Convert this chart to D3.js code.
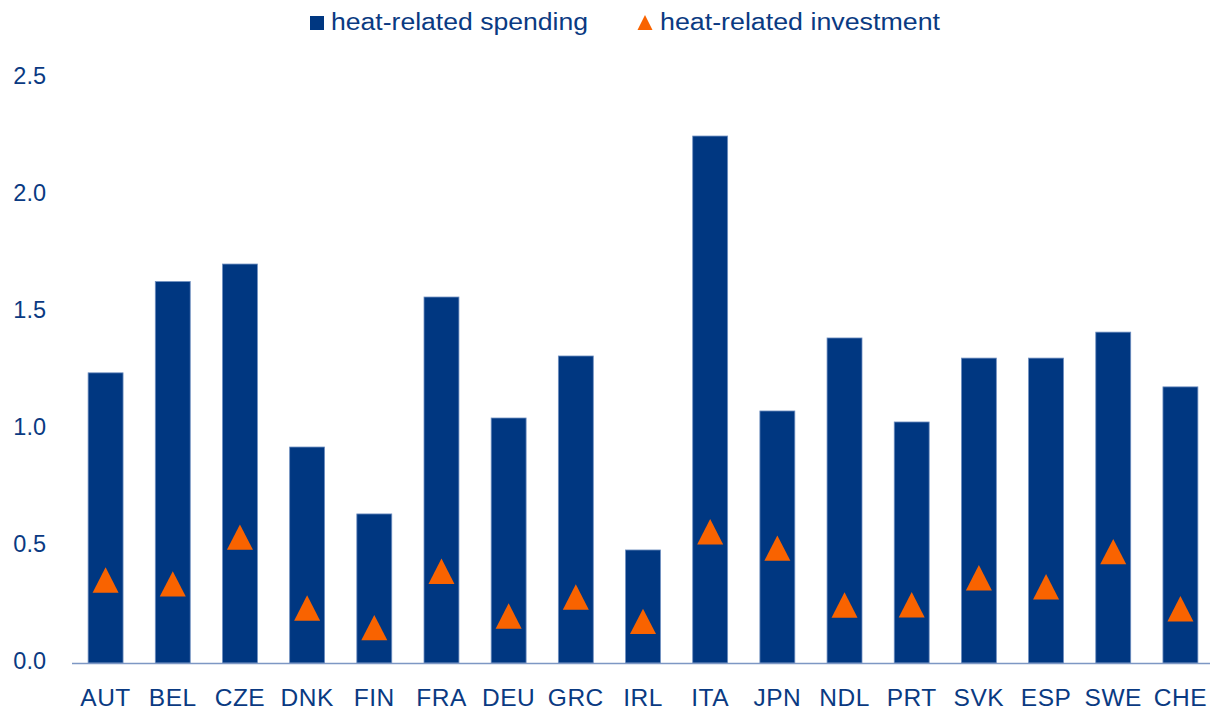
<!DOCTYPE html>
<html>
<head>
<meta charset="utf-8">
<script src="https://cdn.jsdelivr.net/npm/d3@7"></script>
<style>
  body { margin: 0; background: #fff; }
  svg { display: block; font-family: "Liberation Sans", Arial, sans-serif; }
</style>
</head>
<body>
<svg id="chart" width="1210" height="711"></svg>
<script>
const countries = ["AUT","BEL","CZE","DNK","FIN","FRA","DEU","GRC","IRL","ITA","JPN","NDL","PRT","SVK","ESP","SWE","CHE"]
const spending = [1.24,1.63,1.705,0.923,0.637,1.564,1.047,1.312,0.483,2.252,1.077,1.389,1.03,1.303,1.303,1.414,1.18]
const investment = [0.355,0.338,0.538,0.235,0.151,0.392,0.201,0.282,0.178,0.561,0.491,0.248,0.249,0.364,0.326,0.476,0.232]
const yTicks = [0,0.5,1.0,1.5,2.0,2.5]
const legendLabels = ["heat-related spending","heat-related investment"]

const blue = "#003781"
const orange = "#f96300"
const textColor = "#0a3a82"

const svg = d3.select("#chart")

const x = d3.scaleBand().domain(countries).range([72, 1214]).paddingInner(0.48).paddingOuter(0.24)
const y = d3.scaleLinear().domain([0, 2.5]).range([663, 78])

// y labels
const yAxis = d3.axisLeft(y).tickValues(yTicks).tickFormat(d3.format(".1f")).tickSize(0).tickPadding(0)
svg.append("g").attr("transform","translate(46,-2)").call(yAxis)
  .call(g => g.select(".domain").remove())
  .call(g => g.selectAll("text").attr("fill", textColor).style("font-size","23.5px").attr("font-family",null))

// bars
svg.append("g").selectAll("rect").data(countries)
  .join("rect")
  .attr("x", d => x(d))
  .attr("width", x.bandwidth())
  .attr("y", (d,i) => y(spending[i]))
  .attr("height", (d,i) => y(0) - y(spending[i]))
  .attr("fill", blue)
  .attr("stroke", "#6f8fc0")
  .attr("stroke-width", 0.8)

// baseline + x labels
const xAxis = d3.axisBottom(x).tickSize(0).tickPadding(26)
svg.append("g").attr("transform", `translate(0,${y(0)})`).call(xAxis)
  .call(g => g.select(".domain").attr("stroke","#7d97c4").attr("stroke-width",1.5).attr("d","M72,0.5H1210"))
  .call(g => g.selectAll("text").attr("fill", textColor).style("font-size","24.5px").style("letter-spacing","0.5px").attr("font-family",null))

// triangles
const tri = "M0,-12.7L13,12.7L-13,12.7Z"
svg.append("g").selectAll("path").data(countries)
  .join("path")
  .attr("d", tri)
  .attr("transform", (d,i) => `translate(${x(d) + x.bandwidth()/2},${y(investment[i])})`)
  .attr("fill", orange)

// legend
const leg = svg.append("g")
leg.append("rect").attr("x",310).attr("y",16).attr("width",14).attr("height",14).attr("fill",blue)
leg.append("text").attr("x",331).attr("y",30).attr("textLength",257).attr("lengthAdjust","spacingAndGlyphs").text(legendLabels[0])
leg.append("path").attr("d","M0,-8L7.5,7L-7.5,7Z").attr("transform","translate(645,23)").attr("fill",orange)
leg.append("text").attr("x",660).attr("y",30).attr("textLength",280).attr("lengthAdjust","spacingAndGlyphs").text(legendLabels[1])
leg.selectAll("text").attr("fill",textColor).style("font-size","23.5px")
</script>
</body>
</html>
